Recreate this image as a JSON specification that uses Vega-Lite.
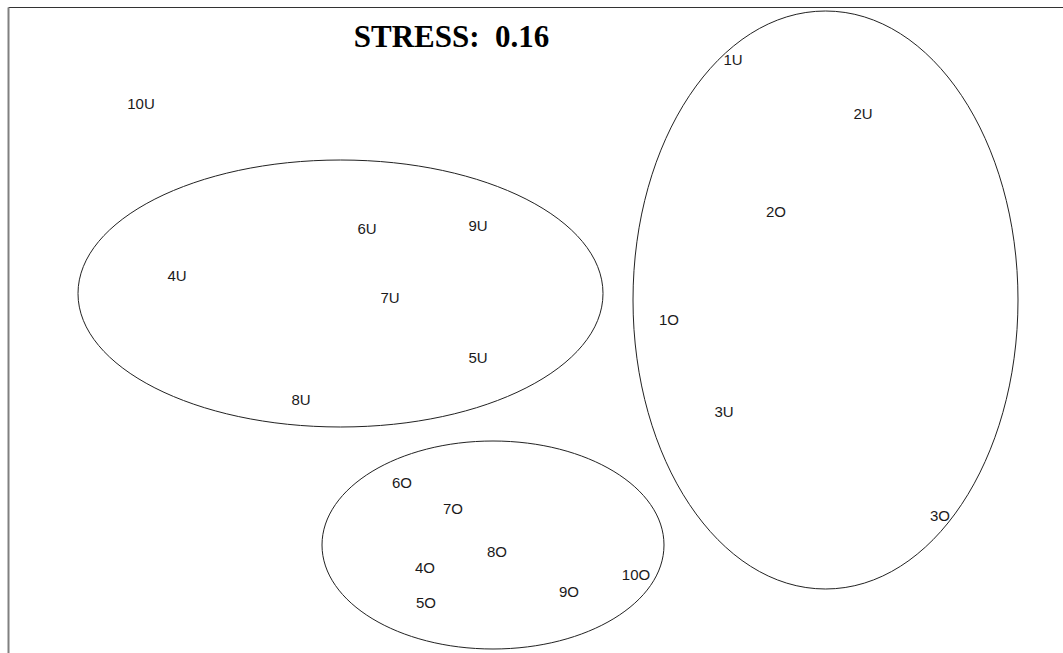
{
  "$schema": "https://vega.github.io/schema/vega-lite/v6.json",
  "width": 1055,
  "height": 646,
  "autosize": "none",
  "padding": {"left": 8, "top": 7, "right": 0, "bottom": 0},
  "background": "white",
  "config": {"view": {"stroke": null}},
  "datasets": {
    "points": [
      {"label": "10U", "dim1": -1.995, "dim2": 1.13},
      {"label": "1U", "dim1": 0.965, "dim2": 1.35},
      {"label": "2U", "dim1": 1.615, "dim2": 1.08},
      {"label": "2O", "dim1": 1.18, "dim2": 0.59},
      {"label": "6U", "dim1": -0.865, "dim2": 0.505},
      {"label": "9U", "dim1": -0.31, "dim2": 0.52},
      {"label": "4U", "dim1": -1.815, "dim2": 0.27},
      {"label": "7U", "dim1": -0.75, "dim2": 0.16},
      {"label": "1O", "dim1": 0.645, "dim2": 0.05},
      {"label": "5U", "dim1": -0.31, "dim2": -0.14},
      {"label": "8U", "dim1": -1.195, "dim2": -0.35},
      {"label": "3U", "dim1": 0.92, "dim2": -0.41},
      {"label": "6O", "dim1": -0.69, "dim2": -0.765},
      {"label": "7O", "dim1": -0.435, "dim2": -0.895},
      {"label": "3O", "dim1": 2.0, "dim2": -0.93},
      {"label": "8O", "dim1": -0.215, "dim2": -1.11},
      {"label": "4O", "dim1": -0.575, "dim2": -1.19},
      {"label": "10O", "dim1": 0.48, "dim2": -1.225},
      {"label": "9O", "dim1": 0.145, "dim2": -1.31},
      {"label": "5O", "dim1": -0.57, "dim2": -1.365}
    ],
    "clusters": [
      {"cluster": "A", "dim1": -0.9975, "dim2": 0.1825},
      {"cluster": "B", "dim1": 1.4275, "dim2": 0.15},
      {"cluster": "C", "dim1": -0.235, "dim2": -1.075}
    ],
    "title": [
      {"text": "STRESS:\u00a0 0.16", "dim1": -0.4425, "dim2": 1.415}
    ]
  },
  "encoding": {
    "x": {
      "field": "dim1",
      "type": "quantitative",
      "scale": {"domain": [-2.66, 2.615], "nice": false, "zero": false},
      "axis": {"orient": "top", "title": null, "labels": false, "ticks": false, "grid": false, "domain": true, "domainColor": "#333333", "domainWidth": 1}
    },
    "y": {
      "field": "dim2",
      "type": "quantitative",
      "scale": {"domain": [-1.615, 1.615], "nice": false, "zero": false},
      "axis": {"orient": "left", "title": null, "labels": false, "ticks": false, "grid": false, "domain": true, "domainColor": "#808080", "domainWidth": 2}
    }
  },
  "layer": [
    {
      "data": {"name": "clusters"},
      "mark": {"type": "point", "filled": false, "size": 4, "stroke": "#222222", "strokeWidth": 1, "opacity": 1},
      "encoding": {
        "shape": {
          "field": "cluster",
          "type": "nominal",
          "legend": null,
          "scale": {
            "domain": ["A", "B", "C"],
            "range": [
              "M -262.5 0 A 262.5 133.5 0 1 0 262.5 0 A 262.5 133.5 0 1 0 -262.5 0 Z",
              "M -192.5 0 A 192.5 289 0 1 0 192.5 0 A 192.5 289 0 1 0 -192.5 0 Z",
              "M -171 0 A 171 104 0 1 0 171 0 A 171 104 0 1 0 -171 0 Z"
            ]
          }
        }
      }
    },
    {
      "data": {"name": "points"},
      "mark": {"type": "text", "font": "Liberation Sans", "fontSize": 15, "color": "#1a1a1a", "align": "center", "baseline": "middle"},
      "encoding": {"text": {"field": "label"}}
    },
    {
      "data": {"name": "title"},
      "mark": {"type": "text", "font": "Liberation Serif", "fontWeight": "bold", "fontSize": 31, "color": "#000000", "align": "center", "baseline": "alphabetic"},
      "encoding": {"text": {"field": "text"}}
    }
  ]
}
